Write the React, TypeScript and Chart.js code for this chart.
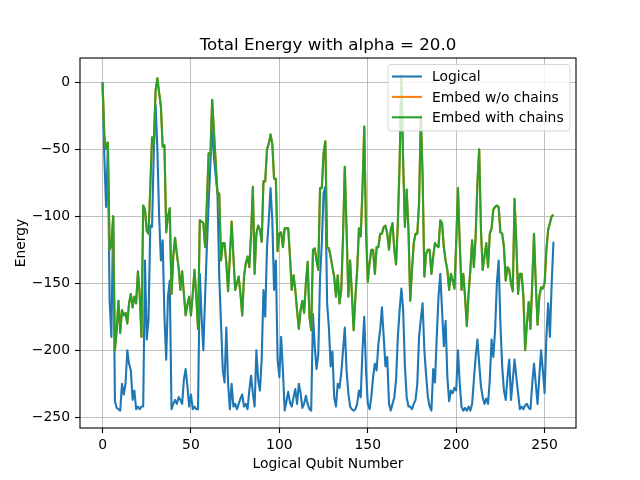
import React, { useEffect, useRef } from "react";
import { Chart, registerables } from "chart.js";

Chart.register(...registerables);

const chartTitle = "Total Energy with alpha = 20.0";
const xAxisLabel = "Logical Qubit Number";
const yAxisLabel = "Energy";
const seriesNames = ["Logical", "Embed w/o chains", "Embed with chains"];
const seriesColors = ["#1f77b4", "#ff7f0e", "#2ca02c"];
const xTickValues = [0, 50, 100, 150, 200, 250];
const yTickValues = [0, -50, -100, -150, -200, -250];

const logical = [
  0, -55, -93, -50, -163, -190, -100, -238, -243, -244, -245, -225, -233, -225, -200, -210,
  -215, -237, -230, -244, -242, -244, -242, -242, -133, -192, -177, -107, -108, -50, -17, -50,
  -100, -133, -118, -175, -207, -160, -148, -244, -240, -237, -240, -235, -237, -240, -222, -214,
  -227, -242, -233, -244, -242, -244, -244, -143, -175, -200, -160, -123, -90, -60, -33, -56,
  -70, -83, -145, -180, -215, -224, -183, -225, -244, -225, -242, -240, -244, -240, -236, -233,
  -242, -240, -244, -230, -219, -232, -242, -200, -222, -230, -207, -155, -175, -123, -103, -79,
  -103, -155, -133, -207, -220, -190, -215, -245, -238, -231, -239, -242, -235, -229, -240, -225,
  -232, -243, -240, -234, -240, -244, -245, -173, -197, -214, -203, -146, -120, -83, -78, -165,
  -183, -212, -201, -235, -242, -225, -228, -217, -200, -183, -215, -232, -242, -244, -245, -244,
  -240, -230, -235, -200, -175, -215, -240, -244, -235, -220, -210, -215, -195, -185, -168, -190,
  -212, -205, -240, -245, -240, -235, -222, -190, -170, -154, -170, -212, -235, -242, -242, -244,
  -240, -237, -225, -190, -177, -165, -200, -219, -235, -242, -245, -214, -224, -190, -160, -143,
  -170, -197, -178, -220, -238, -230, -232, -228, -230, -200, -225, -242, -245, -243, -245, -242,
  -245, -240, -222, -205, -192, -210, -227, -235, -240, -236, -240, -222, -192, -205, -185, -150,
  -133, -180, -212, -230, -237, -220, -207, -237, -222, -207, -220, -232, -244, -242, -244, -241,
  -240, -243, -244, -225, -210, -225, -240, -220, -200, -215, -232, -190, -165, -190, -150, -119,
];

const embedWithoutChains = [
  0, -40, -50, -45, -125, -122, -100, -200, -185, -163, -187, -170, -174, -172, -180, -165,
  -158, -168, -160, -165, -141, -158, -190, -92, -95, -111, -113, -78, -41, -46, -6, 3,
  -8, -18, -48, -47, -112, -100, -94, -158, -130, -116, -128, -138, -155, -141, -158, -174,
  -166, -160, -174, -158, -140, -160, -184, -103, -104, -105, -123, -90, -53, -54, -13, -37,
  -60, -83, -83, -133, -120, -120, -135, -156, -130, -104, -130, -155, -150, -145, -158, -174,
  -145, -135, -130, -138, -113, -78, -143, -113, -107, -110, -119, -74, -74, -50, -46, -39,
  -46, -72, -72, -126, -113, -112, -123, -109, -109, -109, -130, -155, -144, -155, -170, -184,
  -170, -163, -172, -150, -134, -175, -185, -125, -124, -133, -140, -79, -79, -53, -44, -123,
  -124, -130, -138, -145, -160, -144, -165, -155, -115, -63, -110, -160, -133, -158, -185, -160,
  -140, -109, -115, -80, -33, -110, -149, -135, -125, -125, -143, -123, -123, -113, -113, -108,
  -107, -113, -125, -110, -105, -125, -136, -105, -60, 5, -60, -108, -80, -110, -163, -140,
  -120, -113, -113, -90, -25, -70, -145, -128, -125, -125, -143, -130, -120, -122, -123, -103,
  -105, -123, -133, -140, -155, -143, -148, -154, -120, -79, -120, -155, -143, -160, -182, -158,
  -140, -118, -138, -115, -75, -50, -110, -140, -130, -120, -138, -113, -109, -95, -93, -92,
  -93, -112, -113, -123, -148, -138, -140, -150, -156, -87, -120, -158, -143, -143, -160, -200,
  -180, -164, -184, -150, -113, -150, -181, -160, -153, -154, -150, -125, -110, -105, -100, -99,
];

const embedWithChains = [
  0, -40, -50, -45, -125, -122, -100, -200, -185, -163, -187, -170, -174, -172, -180, -165,
  -158, -168, -160, -165, -141, -158, -190, -92, -95, -111, -113, -78, -41, -46, -6, 3,
  -8, -18, -48, -47, -112, -100, -94, -158, -130, -116, -128, -138, -155, -141, -158, -174,
  -166, -160, -174, -158, -140, -160, -184, -103, -104, -105, -123, -90, -53, -54, -13, -37,
  -60, -83, -83, -133, -120, -120, -135, -156, -130, -104, -130, -155, -150, -145, -158, -174,
  -145, -135, -130, -138, -113, -78, -143, -113, -107, -110, -119, -74, -74, -50, -46, -39,
  -46, -72, -72, -126, -113, -112, -123, -109, -109, -109, -130, -155, -144, -155, -170, -184,
  -170, -163, -172, -150, -134, -175, -185, -125, -124, -133, -140, -79, -79, -53, -44, -123,
  -124, -130, -138, -145, -160, -144, -165, -155, -115, -63, -110, -160, -133, -158, -185, -160,
  -140, -109, -115, -80, -33, -110, -149, -135, -125, -125, -143, -123, -123, -113, -113, -108,
  -107, -113, -125, -110, -105, -125, -136, -105, -60, 5, -60, -108, -80, -110, -163, -140,
  -120, -113, -113, -90, -25, -70, -145, -128, -125, -125, -143, -130, -120, -122, -123, -103,
  -105, -123, -133, -140, -155, -143, -148, -154, -120, -79, -120, -155, -143, -160, -182, -158,
  -140, -118, -138, -115, -75, -50, -110, -140, -130, -120, -138, -113, -109, -95, -93, -92,
  -93, -112, -113, -123, -148, -138, -140, -150, -156, -87, -120, -158, -143, -143, -160, -200,
  -180, -164, -184, -150, -113, -150, -181, -160, -153, -154, -150, -125, -110, -105, -100, -99,
];

const FONT = "'DejaVu Sans', sans-serif";

function fmtTick(v: number): string {
  return v < 0 ? "\u2212" + Math.abs(v) : String(v);
}

const decorPlugin = {
  id: "decor",
  afterDatasetsDraw(chart: any) {
    const { ctx, chartArea } = chart;
    const { left, right, top, bottom } = chartArea;
    ctx.save();
    // spines
    ctx.strokeStyle = "#000";
    ctx.lineWidth = 1.1;
    ctx.strokeRect(left, top, right - left, bottom - top);

    // title
    ctx.fillStyle = "#000";
    ctx.font = `16.7px ${FONT}`;
    ctx.textAlign = "center";
    ctx.textBaseline = "alphabetic";
    ctx.fillText(chartTitle, (left + right) / 2, top - 8.5);

    // x label
    ctx.font = `13.9px ${FONT}`;
    ctx.textBaseline = "alphabetic";
    ctx.fillText(xAxisLabel, (left + right) / 2, 467.5);

    // y label
    ctx.save();
    ctx.translate(25, (top + bottom) / 2);
    ctx.rotate(-Math.PI / 2);
    ctx.textAlign = "center";
    ctx.textBaseline = "alphabetic";
    ctx.fillText(yAxisLabel, 0, 0);
    ctx.restore();

    // legend
    const lx = 388, ly = 64.5, lw = 182, lh = 66.5, r = 3;
    ctx.beginPath();
    ctx.moveTo(lx + r, ly);
    ctx.lineTo(lx + lw - r, ly);
    ctx.quadraticCurveTo(lx + lw, ly, lx + lw, ly + r);
    ctx.lineTo(lx + lw, ly + lh - r);
    ctx.quadraticCurveTo(lx + lw, ly + lh, lx + lw - r, ly + lh);
    ctx.lineTo(lx + r, ly + lh);
    ctx.quadraticCurveTo(lx, ly + lh, lx, ly + lh - r);
    ctx.lineTo(lx, ly + r);
    ctx.quadraticCurveTo(lx, ly, lx + r, ly);
    ctx.closePath();
    ctx.fillStyle = "rgba(255,255,255,0.8)";
    ctx.fill();
    ctx.strokeStyle = "rgba(204,204,204,0.8)";
    ctx.lineWidth = 1;
    ctx.stroke();

    ctx.font = `13.9px ${FONT}`;
    ctx.textAlign = "left";
    ctx.textBaseline = "middle";
    seriesNames.forEach((name, i) => {
      const yy = 76.5 + i * 20.4;
      ctx.strokeStyle = seriesColors[i];
      ctx.lineWidth = 2.1;
      ctx.beginPath();
      ctx.moveTo(392, yy);
      ctx.lineTo(422, yy);
      ctx.stroke();
      ctx.fillStyle = "#000";
      ctx.fillText(name, 432, yy + 1);
    });
    ctx.restore();
  },
};

export default function App() {
  const canvasRef = useRef<HTMLCanvasElement | null>(null);

  useEffect(() => {
    document.body.style.margin = "0";
    const canvas = canvasRef.current;
    if (!canvas) return;
    const toPoints = (arr: number[]) => arr.map((y, i) => ({ x: i, y }));
    const series = [logical, embedWithoutChains, embedWithChains];
    const chart = new Chart(canvas, {
      type: "line",
      data: {
        datasets: series.map((arr, i) => ({
          label: seriesNames[i],
          data: toPoints(arr),
          borderColor: seriesColors[i],
          backgroundColor: seriesColors[i],
          borderWidth: 2.1,
          pointRadius: 0,
          tension: 0,
          fill: false,
          borderJoinStyle: "round" as const,
          borderCapStyle: "butt" as const,
          order: 2 - i,
        })),
      },
      options: {
        animation: false,
        responsive: false,
        maintainAspectRatio: false,
        layout: { padding: { left: 0, right: 64, top: 58, bottom: 0 } },
        plugins: {
          legend: { display: false },
          title: { display: false },
          tooltip: { enabled: false },
        },
        scales: {
          x: {
            type: "linear",
            min: -12.75,
            max: 267.75,
            afterBuildTicks: (s: any) => {
              s.ticks = xTickValues.map((v) => ({ value: v }));
            },
            afterFit: (s: any) => {
              s.height = 52;
            },
            grid: {
              color: "#b0b0b0",
              lineWidth: 0.8,
              tickLength: 5,
              tickColor: "#000",
              tickWidth: 1.1,
              drawTicks: true,
            },
            border: { display: false },
            ticks: {
              color: "#000",
              font: { family: FONT, size: 13.9 },
              padding: 4,
              maxRotation: 0,
              autoSkip: false,
              callback: (v: any) => fmtTick(Number(v)),
            },
          },
          y: {
            type: "linear",
            min: -258,
            max: 18.1,
            afterBuildTicks: (s: any) => {
              s.ticks = yTickValues.map((v) => ({ value: v }));
            },
            afterFit: (s: any) => {
              s.width = 80;
            },
            grid: {
              color: "#b0b0b0",
              lineWidth: 0.8,
              tickLength: 5,
              tickColor: "#000",
              tickWidth: 1.1,
              drawTicks: true,
            },
            border: { display: false },
            ticks: {
              color: "#000",
              font: { family: FONT, size: 13.9 },
              padding: 5,
              autoSkip: false,
              callback: (v: any) => fmtTick(Number(v)),
            },
          },
        },
      },
      plugins: [decorPlugin],
    } as any);
    return () => chart.destroy();
  }, []);

  return (
    <div style={{ position: "absolute", left: 0, top: 0, width: 640, height: 480, background: "#fff" }}>
      <canvas ref={canvasRef} width={640} height={480} style={{ width: 640, height: 480, display: "block" }} />
    </div>
  );
}
